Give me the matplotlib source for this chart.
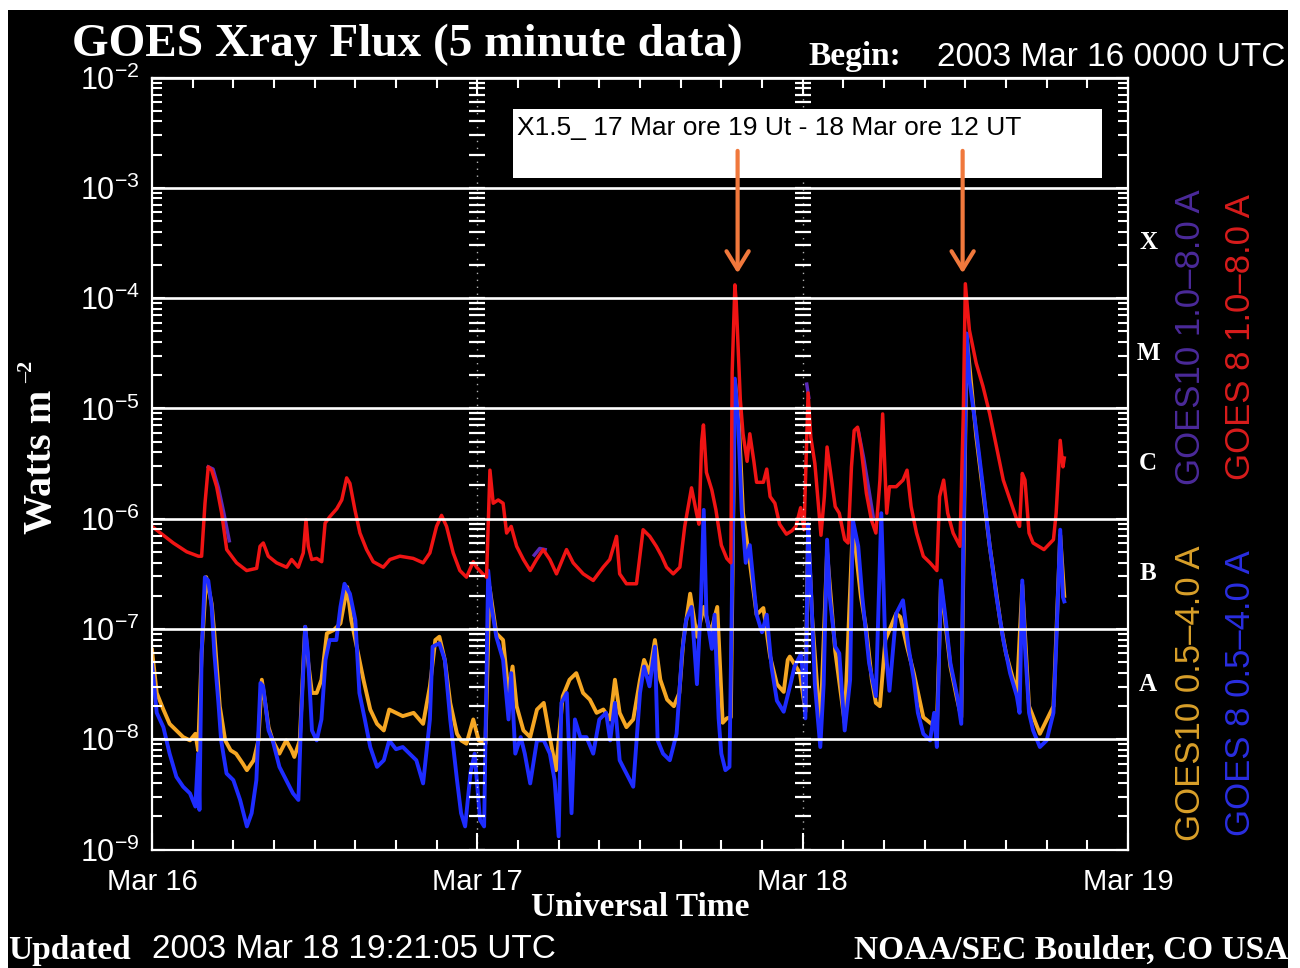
import numpy as np
import matplotlib
matplotlib.use('Agg')
import matplotlib.pyplot as plt
from matplotlib.patches import Rectangle
from matplotlib.transforms import blended_transform_factory

# ---------------- data (hours since 2003 Mar 16 00 UT, log10 flux W m^-2) ----------------
red_h = [0.0, 0.84, 1.57, 2.56, 3.42, 3.66, 3.91, 4.15, 4.40, 4.77, 5.14, 5.51, 6.24, 6.98, 7.72,
         7.97, 8.21, 8.58, 9.19, 9.93, 10.30, 10.79, 11.16, 11.36, 11.53, 11.78, 12.15, 12.52, 12.77,
         13.13, 13.63, 14.0, 14.36, 14.6, 14.97, 15.34, 15.83, 16.32, 17.06, 17.55, 18.29, 19.27, 20.0,
         20.5, 20.99, 21.36, 21.73, 22.22, 22.71, 23.2, 23.7, 23.94, 24.4, 24.68, 24.93, 25.17, 25.54,
         25.9, 26.16, 26.5, 26.9, 27.4, 27.9, 28.37, 28.86, 29.35, 29.84, 30.58, 31.07, 31.81, 32.55,
         33.28, 33.77, 34.27, 34.5, 35.0, 35.74, 36.23, 36.72, 37.2, 37.6, 37.96, 38.45, 38.94, 39.3,
         39.8, 40.17, 40.35, 40.55, 40.68, 40.9, 41.3, 41.6, 42.0, 42.4, 42.7, 42.8, 43.0, 43.1, 43.4,
         43.6, 43.9, 44.1, 44.4, 44.6, 45.1, 45.35, 45.6, 45.95, 46.3, 46.8, 47.2, 47.5, 47.85, 48.1,
         48.4, 48.6, 48.9, 49.35, 49.6, 49.8, 50.0, 50.4, 50.7, 51.1, 51.35, 51.6, 51.8, 52.05, 52.3,
         52.7, 53.07, 53.4, 53.7, 53.9, 54.2, 54.4, 54.9, 55.4, 55.7, 56.0, 56.4, 56.9, 57.4, 57.9,
         58.1, 58.4, 58.7, 59.1, 59.6, 59.85, 60.0, 60.3, 60.8, 61.3, 61.8, 62.3, 62.8, 63.3, 63.8,
         64.0, 64.2, 64.4, 64.7, 65.0, 65.8, 66.5, 66.7, 67.0, 67.2, 67.3]
red_v = [-6.07, -6.15, -6.22, -6.30, -6.34, -6.34, -5.86, -5.53, -5.56, -5.71, -5.95, -6.28, -6.40, -6.47, -6.45,
         -6.25, -6.22, -6.34, -6.40, -6.44, -6.37, -6.44, -6.31, -6.01, -6.25, -6.37, -6.36, -6.39, -6.04,
         -5.98, -5.91, -5.83, -5.63, -5.68, -5.92, -6.13, -6.28, -6.39, -6.44, -6.37, -6.34, -6.36, -6.40,
         -6.31, -6.07, -5.97, -6.07, -6.31, -6.47, -6.53, -6.39, -6.44, -6.50, -6.53, -5.56, -5.86, -5.83,
         -5.86, -6.13, -6.07, -6.25, -6.37, -6.47, -6.37, -6.28, -6.37, -6.50, -6.28, -6.40, -6.50, -6.56,
         -6.44, -6.37, -6.16, -6.50, -6.59, -6.59, -6.10, -6.16, -6.25, -6.34, -6.44, -6.50, -6.44, -6.07,
         -5.72, -5.95, -6.05, -5.30, -5.15, -5.58, -5.74, -5.92, -6.24, -6.36, -6.40, -4.67, -3.88, -4.04, -4.92,
         -5.23, -5.48, -5.23, -5.48, -5.67, -5.67, -5.55, -5.80, -5.86, -6.05, -6.14, -6.11, -6.07, -5.90, -6.10,
         -4.86, -5.26, -5.50, -6.15, -5.80, -5.35, -5.53, -5.89, -5.95, -6.19, -6.22, -5.53, -5.20, -5.17, -5.35,
         -5.77, -6.01, -6.13, -5.65, -5.05, -5.95, -5.71, -5.71, -5.65, -5.56, -5.89, -6.13, -6.34, -6.40, -6.47,
         -5.80, -5.65, -5.95, -6.13, -6.25, -5.05, -3.87, -4.29, -4.59, -4.80, -5.05, -5.35, -5.65, -5.83, -6.01,
         -6.07, -5.59, -5.65, -6.13, -6.22, -6.28, -6.19, -5.95, -5.29, -5.53, -5.45]

blue_h = [0.0, 0.35, 0.84, 1.3, 1.8, 2.3, 2.8, 3.2, 3.4, 3.5, 3.66, 3.9, 4.15, 4.4, 4.6, 4.9, 5.1, 5.5,
          6.0, 6.5, 7.0, 7.35, 7.7, 8.0, 8.2, 8.6, 8.9, 9.4, 9.9, 10.4, 10.8, 11.0, 11.3, 11.5, 11.8,
          12.15, 12.5, 12.8, 13.1, 13.6, 13.9, 14.2, 14.6, 15.0, 15.3, 15.7, 16.1, 16.6, 17.1, 17.5,
          18.0, 18.5, 19.0, 19.5, 20.0, 20.5, 20.7, 21.2, 21.6, 22.0, 22.5, 22.8, 23.1, 23.5, 23.8,
          24.2, 24.5, 24.8, 25.05, 25.4, 25.9, 26.3, 26.5, 26.8, 27.2, 27.5, 27.9, 28.4, 28.9, 29.35,
          29.7, 30.0, 30.2, 30.6, 30.95, 31.2, 31.6, 32.05, 32.55, 33.0, 33.5, 33.8, 34.15, 34.5, 35.0,
          35.5, 36.0, 36.3, 36.7, 37.1, 37.3, 37.7, 38.2, 38.7, 39.1, 39.4, 39.8, 40.2, 40.5, 40.7,
          40.9, 41.3, 41.5, 41.8, 42.0, 42.3, 42.6, 42.8, 43.0, 43.25, 43.5, 43.8, 44.1, 44.4, 44.6,
          45.0, 45.35, 45.7, 46.1, 46.6, 47.1, 47.4, 47.9, 48.2, 48.4, 48.6, 48.9, 49.3, 49.55, 49.8,
          50.0, 50.4, 50.7, 51.1, 51.5, 51.7, 52.1, 52.4, 52.9, 53.4, 53.8, 54.1, 54.4, 54.9, 55.4,
          55.8, 56.2, 56.5, 56.9, 57.4, 57.7, 57.9, 58.2, 58.5, 58.9, 59.4, 59.7, 59.85, 60.1, 60.3,
          60.8, 61.3, 61.8, 62.3, 62.8, 63.3, 63.8, 64.0, 64.2, 64.4, 64.7, 65.0, 65.5, 66.0, 66.5,
          66.7, 67.0, 67.2, 67.3]
blue_v = [-7.31, -7.76, -7.89, -8.13, -8.34, -8.43, -8.49, -8.61, -8.13, -8.64, -7.22, -6.53, -6.56, -6.80, -7.22, -7.67, -8.01, -8.31,
          -8.37, -8.55, -8.79, -8.67, -8.37, -7.49, -7.52, -7.92, -8.01, -8.25, -8.37, -8.49, -8.55, -7.82, -6.98, -7.22, -7.92,
          -8.01, -7.82, -7.28, -7.10, -7.10, -6.80, -6.59, -6.68, -6.92, -7.58, -7.82, -8.07, -8.25, -8.19, -8.01,
          -8.09, -8.07, -8.13, -8.19, -8.40, -7.82, -7.16, -7.13, -7.28, -7.82, -8.37, -8.67, -8.79, -8.30, -8.13,
          -8.73, -8.79, -6.47, -6.80, -7.07, -7.28, -7.82, -7.40, -8.13, -7.98, -8.13, -8.40, -8.01, -8.01, -8.13,
          -8.37, -8.88, -7.67, -7.58, -8.67, -7.82, -7.98, -7.98, -8.13, -7.82, -7.76, -8.01, -7.67, -8.19, -8.31,
          -8.43, -7.58, -7.34, -7.52, -7.16, -8.01, -8.13, -8.19, -7.95, -7.22, -6.92, -6.80, -7.50, -6.74, -5.92,
          -6.87, -7.18, -6.87, -7.81, -8.13, -8.28, -8.25, -6.55, -4.73, -5.14, -5.92, -6.40, -6.24, -6.62, -6.87,
          -7.03, -6.87, -7.34, -7.65, -7.75, -7.50, -7.34, -7.22, -7.81, -6.05, -6.60, -7.50, -8.07, -7.50, -6.19,
          -6.71, -7.16, -7.22, -7.92, -7.46, -6.01, -6.25, -6.71, -7.31, -7.61, -5.95, -7.16, -7.56, -6.86, -6.74,
          -7.16, -7.46, -7.76, -7.95, -8.01, -7.76, -8.07, -6.56, -6.86, -7.31, -7.61, -7.86, -6.25, -4.32, -4.74,
          -5.20, -5.71, -6.25, -6.71, -7.10, -7.40, -7.61, -7.76, -6.56, -7.16, -7.76, -7.92, -8.07, -8.01, -7.76,
          -7.16, -6.10, -6.71, -6.75]

orange_h = [0.0, 0.35, 0.84, 1.3, 1.8, 2.3, 2.8, 3.2, 3.4, 3.66, 4.0, 4.4, 4.6, 5.0, 5.4, 5.8, 6.2, 6.7,
            7.0, 7.5, 7.85, 8.1, 8.35, 8.6, 8.9, 9.4, 9.9, 10.3, 10.5, 10.9, 11.2, 11.3, 11.5, 11.8, 12.15,
            12.5, 12.9, 13.4, 13.9, 14.4, 14.7, 15.2, 15.6, 16.1, 16.6, 17.1, 17.5, 18.0, 18.5, 19.3, 20.0,
            20.5, 20.9, 21.2, 21.6, 22.0, 22.5, 22.8, 23.2, 23.7, 24.1, 24.6, 24.9, 25.4, 25.9, 26.3, 26.6,
            26.9, 27.4, 27.9, 28.4, 28.9, 29.35, 29.8, 30.3, 30.8, 31.3, 31.8, 32.3, 32.8, 33.3, 33.8, 34.15,
            34.5, 35.0, 35.5, 36.0, 36.3, 36.7, 37.1, 37.5, 38.0, 38.5, 38.9, 39.2, 39.7, 40.2, 40.7, 41.2,
            41.7, 42.0, 42.1, 42.4, 42.7, 43.0, 43.3, 43.6, 44.0, 44.6, 45.1, 45.6, 46.1, 46.6, 46.9, 47.05,
            47.8, 48.2, 48.4, 48.7, 49.3, 49.8, 50.4, 51.1, 51.7, 52.3, 52.7, 53.1, 53.4, 53.7, 54.1, 54.9,
            55.2, 55.7, 56.2, 56.9, 57.4, 57.9, 58.2, 58.9, 59.4, 59.7, 60.1, 60.8, 61.8, 62.6, 63.0, 63.8,
            64.2, 64.7, 65.5, 66.5, 67.0, 67.3]
orange_v = [-7.19, -7.58, -7.73, -7.86, -7.92, -7.98, -8.01, -7.95, -8.10, -7.22, -6.53, -6.77, -7.04, -7.70, -8.01, -8.10, -8.13, -8.22,
            -8.28, -8.19, -8.01, -7.46, -7.67, -7.89, -8.01, -8.13, -8.01, -8.10, -8.16, -8.01, -7.22, -6.98, -7.28, -7.58, -7.58,
            -7.46, -7.04, -7.01, -6.95, -6.62, -6.92, -7.22, -7.46, -7.73, -7.86, -7.92, -7.73, -7.76, -7.79, -7.76, -7.86,
            -7.52, -7.10, -7.07, -7.28, -7.67, -7.95, -8.01, -8.04, -7.82, -8.01, -8.04, -6.62, -7.04, -7.10, -7.58, -7.34,
            -7.70, -7.92, -7.98, -7.73, -7.67, -7.98, -8.28, -7.61, -7.46, -7.40, -7.58, -7.64, -7.76, -7.73, -7.82, -7.46,
            -7.76, -7.89, -7.82, -7.46, -7.28, -7.40, -7.10, -7.46, -7.64, -7.70, -7.58, -7.10, -6.68, -7.07, -6.80, -7.04,
            -6.80, -7.60, -7.85, -7.81, -7.80, -4.75, -5.14, -5.95, -6.30, -6.87, -6.81, -7.25, -7.50, -7.57, -7.28, -7.25,
            -7.40, -7.75, -6.10, -6.90, -7.90, -6.30, -7.20, -7.85, -6.05, -6.71, -7.01, -7.46, -7.67, -7.70, -7.10, -6.86,
            -6.89, -7.16, -7.40, -7.80, -7.85, -7.90, -6.60, -7.34, -7.64, -7.80, -4.35, -5.25, -6.25, -6.95, -7.22, -7.58,
            -6.60, -7.70, -7.95, -7.70, -6.15, -6.70]

# GOES10 long channel: only the stretches where it shows beside GOES 8 (nan = hidden)
purple_h = [4.15, 4.5, 4.9, 5.3, 5.7, np.nan, 28.2, 28.6, 29.0, np.nan, 48.3, 48.45, np.nan,
            52.1, 52.5, 52.9, 53.2]
purple_v = [-5.53, -5.55, -5.72, -5.95, -6.20, np.nan, -6.33, -6.27, -6.28, np.nan, -4.78, -4.90, np.nan,
            -5.20, -5.45, -5.75, -5.98]

day_labels = ['Mar 16', 'Mar 17', 'Mar 18', 'Mar 19']
ytick_exp = [-2, -3, -4, -5, -6, -7, -8, -9]
class_labels = ['X', 'M', 'C', 'B', 'A']
class_centers = [-3.5, -4.5, -5.5, -6.5, -7.5]
legend_texts = ['GOES10 1.0–8.0 A', 'GOES 8 1.0–8.0 A', 'GOES10 0.5–4.0 A', 'GOES 8 0.5–4.0 A']
flare_hours = [43.2, 59.8]

# ---------------- figure ----------------
W, H = 1300, 968
SERIF = ['Liberation Serif', 'DejaVu Serif']
SANS = ['Liberation Sans', 'DejaVu Sans']
plt.rcParams['mathtext.fontset'] = 'custom'
plt.rcParams['mathtext.rm'] = 'Liberation Sans'
plt.rcParams['mathtext.it'] = 'Liberation Sans'
plt.rcParams['mathtext.bf'] = 'Liberation Sans:bold'

fig = plt.figure(figsize=(W / 100, H / 100), dpi=100, facecolor='white')
fig.add_artist(Rectangle((8 / W, 0), (1288 - 8) / W, 1 - 10 / H, transform=fig.transFigure,
                         facecolor='black', edgecolor='none', zorder=-10))

def fx(x):
    return x / W

def fy(y):
    return 1 - y / H

ax = fig.add_axes([fx(152), fy(849.6), (1128 - 152) / W, (849.6 - 77.5) / H])
ax.set_facecolor('black')
ax.set_yscale('log')
ax.set_xlim(0, 72)
ax.set_ylim(1e-9, 1e-2)
for s in ax.spines.values():
    s.set_color('white')
    s.set_linewidth(1.6)

RED = '#f01414'
BLUE = '#1e2cff'
ORANGE = '#f5a623'
PURPLE = '#5a2ab8'

ax.plot(orange_h, 10 ** np.array(orange_v), color=ORANGE, lw=2.8, zorder=2.0)
ax.plot(blue_h, 10 ** np.array(blue_v), color=BLUE, lw=2.8, zorder=2.1)
ax.plot(purple_h, 10 ** np.array(purple_v), color=PURPLE, lw=2.5, zorder=2.2)
ax.plot(red_h, 10 ** np.array(red_v), color=RED, lw=2.5, zorder=2.3)

# dotted day-boundary lines
for d in [24, 48]:
    ax.axvline(d, color='white', lw=1.0, ls=(0, (1, 4)), alpha=0.7, zorder=2.5)

# grid and ticks
ax.set_axisbelow(False)
ax.grid(True, which='major', axis='y', color='white', lw=1.9)
ax.grid(False, axis='x')
ax.set_yticks([10.0 ** e for e in ytick_exp])
ax.set_yticklabels([r'$10^{%d}$' % e for e in ytick_exp])
ax.yaxis.set_minor_locator(matplotlib.ticker.LogLocator(base=10, subs=np.arange(2, 10), numticks=20))
ax.yaxis.set_minor_formatter(matplotlib.ticker.NullFormatter())
ax.tick_params(axis='y', which='both', direction='in', left=True, right=True, color='white',
               width=1.5, labelcolor='white', labelsize=22, pad=9)
ax.tick_params(axis='y', which='major', length=9)
ax.tick_params(axis='y', which='minor', length=7)
ax.set_xticks([0, 24, 48, 72])
ax.set_xticklabels(day_labels)
ax.set_xticks(np.arange(0, 73, 3), minor=True)
ax.tick_params(axis='x', which='both', direction='in', top=True, bottom=True, color='white',
               width=1.5, labelcolor='white', labelsize=21, pad=13)
ax.tick_params(axis='x', which='major', length=12)
ax.tick_params(axis='x', which='minor', length=7)
for lab in ax.get_xticklabels() + ax.get_yticklabels():
    lab.set_fontfamily(SANS)

# tick columns at day boundaries
col_vals = [m * 10.0 ** e for e in range(-9, -2) for m in range(1, 10)] + [1e-2]
for d in [24, 48]:
    ax.plot([d] * len(col_vals), col_vals, ls='none', marker='_', ms=11, mew=1.6,
            color='white', zorder=2.6)

# class letters and legend
tr = blended_transform_factory(ax.transAxes, ax.transData)
for lab, c in zip(class_labels, class_centers):
    ax.text((1148 - 152) / 976, 10 ** c, lab, transform=tr, color='white', fontsize=18,
            fontweight='bold', family=SERIF, ha='center', va='center', clip_on=False)
leg_x = [(1190 - 152) / 976, (1240 - 152) / 976, (1190 - 152) / 976, (1240 - 152) / 976]
leg_y = [-4.35, -4.35, -7.58, -7.58]
leg_c = ['#4b2a9a', '#d81c1c', '#d9a02a', '#2a2ee0']
for t, x, y, c in zip(legend_texts, leg_x, leg_y, leg_c):
    ax.text(x, 10 ** y, t, transform=tr, color=c, fontsize=25, family=SANS, rotation=90,
            ha='center', va='center', clip_on=False)

# annotation box and arrows
ax.add_patch(Rectangle((26.6, 10 ** -2.91), 70.1 - 26.6, 10 ** -2.29 - 10 ** -2.91,
                       facecolor='white', edgecolor='none', zorder=5, clip_on=False))
ax.text(26.9, 10 ** -2.46, 'X1.5_ 17 Mar ore 19 Ut - 18 Mar ore 12 UT', color='black',
        fontsize=19, family=['Liberation Sans Narrow', 'Liberation Sans'], ha='left', va='center', zorder=6)
for fh in flare_hours:
    ax.annotate('', xy=(fh, 10 ** -3.80), xytext=(fh, 10 ** -2.64),
                arrowprops=dict(arrowstyle='->,head_length=1.3,head_width=0.8', color='#f0783c', lw=3),
                zorder=7)

# outer texts
fig.text(fx(72), fy(45), 'GOES Xray Flux (5 minute data)', color='white', fontsize=34,
         fontweight='bold', family=SERIF, ha='left', va='center')
fig.text(fx(808), fy(57), 'Begin:', color='white', fontsize=24, fontweight='bold', family=SERIF,
         ha='left', va='center')
fig.text(fx(937), fy(57), '2003 Mar 16 0000 UTC', color='white', fontsize=24, family=SANS,
         ha='left', va='center')
fig.text(fx(42), fy(462), 'Watts m', color='white', fontsize=29, fontweight='bold', family=SERIF,
         rotation=90, ha='center', va='center')
fig.text(fx(27), fy(372), '–2', color='white', fontsize=16, fontweight='bold', family=SERIF,
         rotation=90, ha='center', va='center')
fig.text(fx(640), fy(908), 'Universal Time', color='white', fontsize=24, fontweight='bold',
         family=SERIF, ha='center', va='center')
fig.text(fx(8), fy(950), 'Updated', color='white', fontsize=24, fontweight='bold', family=SERIF,
         ha='left', va='center')
fig.text(fx(152), fy(950), '2003 Mar 18 19:21:05 UTC', color='white', fontsize=24, family=SANS,
         ha='left', va='center')
fig.text(fx(1288), fy(950), 'NOAA/SEC Boulder, CO USA', color='white', fontsize=24,
         fontweight='bold', family=SERIF, ha='right', va='center')

fig.savefig('out.png', dpi=100, facecolor='white')
